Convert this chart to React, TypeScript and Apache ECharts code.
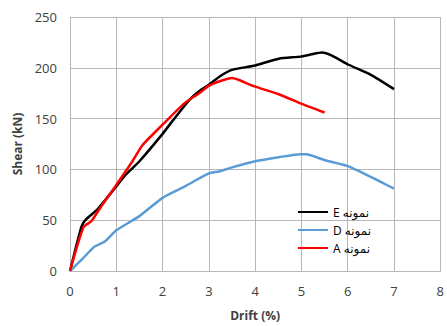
import React, { useEffect, useRef } from "react";
import * as echarts from "echarts";

const xTicks = [0, 1, 2, 3, 4, 5, 6, 7, 8];
const yTicks = [0, 50, 100, 150, 200, 250];

const seriesNames = ["E نمونه", "D نمونه", "A نمونه"];
const seriesColors = ["#000000", "#5B9BD5", "#FF0000"];

const eDrift = [0, 0.25, 0.35, 0.6, 0.96, 1.21, 1.5, 2.0, 2.22, 2.57, 2.79, 2.99, 3.25, 3.5, 3.97, 4.51, 4.98, 5.2, 5.44, 5.66, 6.02, 6.5, 7.0];
const eShear = [0, 44, 51, 61, 81, 95, 108, 135, 148, 168, 177, 183, 192, 198, 202, 209, 211, 213, 215, 212, 203, 193, 179];

const dDrift = [0, 0.28, 0.53, 0.75, 1.0, 1.5, 2.0, 2.43, 3.0, 3.22, 3.5, 4.0, 4.51, 4.98, 5.1, 5.51, 6.02, 7.0];
const dShear = [0, 12.5, 24, 29, 40, 54, 72, 82, 96, 98, 102, 108, 112, 115, 115, 109, 103, 81];

const aDrift = [0, 0.29, 0.46, 0.68, 0.96, 1.32, 1.57, 2.0, 2.47, 2.79, 2.99, 3.25, 3.5, 3.65, 3.97, 4.51, 4.98, 5.5];
const aShear = [0, 43, 49, 64, 82, 106, 124, 144, 165, 175, 182, 187, 190, 188, 182, 174, 165, 156];

const zip = (xs: number[], ys: number[]) => xs.map((x, i) => [x, ys[i]]);

export default function App() {
  const ref = useRef<HTMLDivElement>(null);
  useEffect(() => {
    if (!ref.current) return;
    const chart = echarts.init(ref.current, null, { renderer: "svg" });
    const font = "'Open Sans', 'DejaVu Sans', sans-serif";
    const gridColor = "#b8b8b8";
    const data = [zip(eDrift, eShear), zip(dDrift, dShear), zip(aDrift, aShear)];
    chart.setOption({
      animation: false,
      backgroundColor: "#ffffff",
      grid: { left: 70, right: 5, top: 17, bottom: 55 },
      legend: {
        orient: "vertical",
        left: 297,
        top: 206,
        padding: 0,
        itemWidth: 30,
        itemHeight: 14,
        itemGap: 6,
        itemStyle: { opacity: 0 },
        textStyle: { fontFamily: font, fontSize: 12, color: "#000" },
        data: seriesNames,
      },
      xAxis: {
        type: "value",
        min: xTicks[0],
        max: xTicks[xTicks.length - 1],
        interval: 1,
        name: "Drift (%)",
        nameLocation: "middle",
        nameGap: 38,
        nameTextStyle: { fontFamily: font, fontWeight: "bold", fontSize: 12, color: "#404040" },
        axisLine: { lineStyle: { color: gridColor, width: 1 } },
        axisTick: { show: false },
        axisLabel: { fontFamily: font, fontSize: 13, color: "#404040", margin: 13 },
        splitLine: { show: true, lineStyle: { color: gridColor, width: 1 } },
      },
      yAxis: {
        type: "value",
        min: yTicks[0],
        max: yTicks[yTicks.length - 1],
        interval: 50,
        name: "Shear (kN)",
        nameLocation: "middle",
        nameGap: 46,
        nameTextStyle: { fontFamily: font, fontWeight: "bold", fontSize: 12, color: "#404040" },
        axisLine: { show: true, lineStyle: { color: gridColor, width: 1 } },
        axisTick: { show: false },
        axisLabel: { fontFamily: font, fontSize: 13, color: "#404040", margin: 13 },
        splitLine: { show: true, lineStyle: { color: gridColor, width: 1 } },
      },
      series: seriesNames.map((name, i) => ({
        name,
        type: "line",
        data: data[i],
        symbol: "none",
        smooth: 0.2,
        lineStyle: { color: seriesColors[i], width: 2.5 },
        itemStyle: { color: seriesColors[i] },
      })),
    });
    return () => chart.dispose();
  }, []);
  return <div ref={ref} style={{ width: 447, height: 326, position: "absolute", left: 0, top: 0 }} />;
}
